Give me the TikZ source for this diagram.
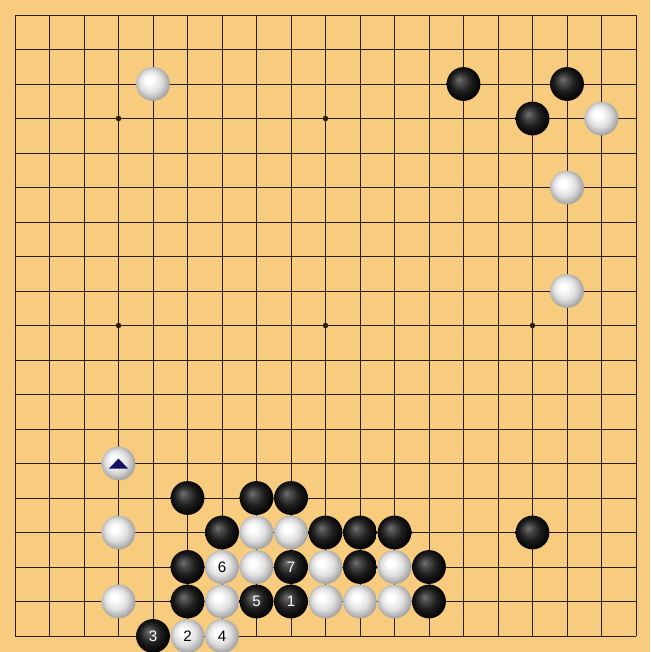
\documentclass[tikz,border=0pt]{standalone}
\usepackage{fontspec}
\setmainfont{Liberation Sans}
\usepackage{tikz}

\definecolor{board}{RGB}{248,204,126}
\definecolor{gridline}{RGB}{40,28,10}
\definecolor{markblue}{RGB}{20,20,100}
\pgfdeclareradialshading{whitestone}{\pgfpoint{-7bp}{7bp}}{color(0bp)=(white); color(5bp)=(white); color(16bp)=(black!12); color(27bp)=(black!38); color(36bp)=(black!45)}
\pgfdeclareradialshading{blackstone}{\pgfpoint{-7bp}{7bp}}{color(0bp)=(black!55); color(5bp)=(black!68); color(15bp)=(black!88); color(27bp)=(black); color(36bp)=(black)}

\begin{document}
\begin{tikzpicture}[x=1cm,y=-1cm,
  stone/.style={circle,inner sep=0pt,minimum size=0.98cm,font=\fontsize{12.5}{13}\selectfont},
  wstone/.style={stone,shading=whitestone,text=black},
  bstone/.style={stone,shading=blackstone,text=white}]
\useasboundingbox (-0.435,-0.435) rectangle (18.406,18.464);
\fill[board] (-0.435,-0.435) rectangle (18.406,18.464);
% grid
\foreach \i in {0,...,18} {
  \draw[gridline,line width=0.8pt] (\i,0) -- (\i,18);
  \draw[gridline,line width=0.8pt] (0,\i) -- (18,\i);
}
\foreach \c/\r in {3/3,9/3,15/3,3/9,9/9,15/9,3/15,9/15,15/15}
  \fill[gridline] (\c,\r) circle (0.08);
% stones
\foreach \c/\r in {13/2,16/2,15/3,5/14,7/14,8/14,6/15,9/15,10/15,11/15,15/15,5/16,10/16,12/16,5/17,12/17}
  \node[bstone] (b-\c-\r) at (\c,\r) {};
\foreach \c/\r in {4/2,17/3,16/5,16/8,3/13,3/15,7/15,8/15,7/16,9/16,11/16,3/17,6/17,9/17,10/17,11/17}
  \node[wstone] (w-\c-\r) at (\c,\r) {};
% numbered moves
\node[bstone] (m1) at (8,17) {1};
\node[wstone] (m2) at (5,18) {2};
\node[bstone] (m3) at (4,18) {3};
\node[wstone] (m4) at (6,18) {4};
\node[bstone] (m5) at (7,17) {5};
\node[wstone] (m6) at (6,16) {6};
\node[bstone] (m7) at (8,16) {7};
% marked stone
\fill[markblue] (w-3-13.center) ++(-0.275,0.145) -- ++(0.55,0) -- ++(-0.275,-0.29) -- cycle;
\end{tikzpicture}
\end{document}
